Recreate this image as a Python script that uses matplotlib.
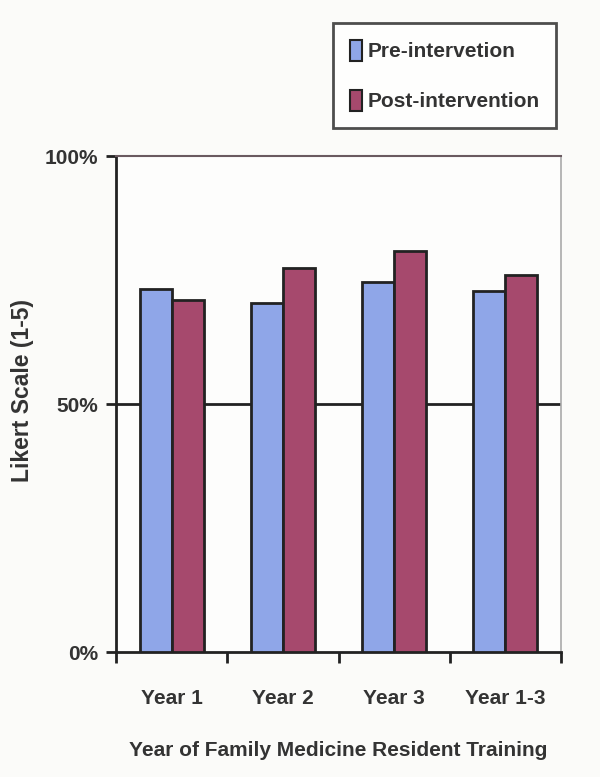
import numpy as np
import matplotlib.pyplot as plt
from matplotlib.patches import Patch

categories = ["Year 1", "Year 2", "Year 3", "Year 1-3"]
pre = [73.2, 70.4, 74.5, 72.7]
post = [71.0, 77.4, 80.9, 76.1]
series_names = ["Pre-intervetion", "Post-intervention"]
yticks = [0, 50, 100]
ytick_labels = ["0%", "50%", "100%"]

txt = "#333333"
blue = "#8fa6e8"
red = "#a6496d"
edge = "#222222"

plt.rcParams['font.family'] = ['Liberation Sans', 'DejaVu Sans']
plt.rcParams['font.weight'] = 'bold'

fig = plt.figure(figsize=(6, 7.77), dpi=100)
fig.patch.set_facecolor("#fbfbf9")
ax = fig.add_axes([116/600, 1 - 652/777, 445/600, 496/777])
ax.set_facecolor("#fdfdfc")

x = np.arange(len(categories))
w = 0.287
ax.bar(x - w/2, pre, w, color=blue, edgecolor=edge, linewidth=2, zorder=3)
ax.bar(x + w/2, post, w, color=red, edgecolor=edge, linewidth=2, zorder=3)

ax.set_xlim(-0.5, len(categories) - 0.5)
ax.set_ylim(0, 100)
ax.axhline(50, color=edge, lw=2, zorder=1)

ax.set_yticks(yticks)
ax.set_yticklabels(ytick_labels, fontsize=15, color=txt, fontweight='bold')
ax.tick_params(axis='y', direction='out', length=7, width=2, color=edge, pad=6)

ax.set_xticks(x)
ax.set_xticklabels(categories, fontsize=15, color=txt, fontweight='bold')
ax.set_xticks(np.arange(len(categories) + 1) - 0.5, minor=True)
ax.tick_params(axis='x', which='major', length=0, pad=27)
ax.tick_params(axis='x', which='minor', direction='out', length=8, width=2, color=edge)

for s in ['left', 'bottom']:
    ax.spines[s].set_linewidth(2)
    ax.spines[s].set_color(edge)
ax.spines['top'].set_linewidth(1.5)
ax.spines['top'].set_color("#6a5a60")
ax.spines['right'].set_linewidth(1.2)
ax.spines['right'].set_color("#aaaaaa")

ax.set_ylabel("Likert Scale (1-5)", fontsize=16.5, color=txt, fontweight='bold')
ax.yaxis.set_label_coords(-0.185, 0.528)
ax.set_xlabel("Year of Family Medicine Resident Training", fontsize=15, color=txt,
              fontweight='bold')
ax.xaxis.set_label_coords(0.5, -0.18)

handles = [Patch(facecolor=blue, edgecolor=edge, linewidth=1.5),
           Patch(facecolor=red, edgecolor=edge, linewidth=1.5)]
leg = fig.legend(handles, series_names, loc='upper left', bbox_to_anchor=(333/600, 1 - 23/777),
                 fontsize=15, frameon=True, fancybox=False, handlelength=0.6, handleheight=1.2,
                 handletextpad=0.25, labelspacing=1.35, borderpad=0.8, borderaxespad=0)
leg.get_frame().set_edgecolor(edge)
leg.get_frame().set_linewidth(2)
for t in leg.get_texts():
    t.set_color(txt)

fig.savefig("out.png", dpi=100, facecolor=fig.get_facecolor())
